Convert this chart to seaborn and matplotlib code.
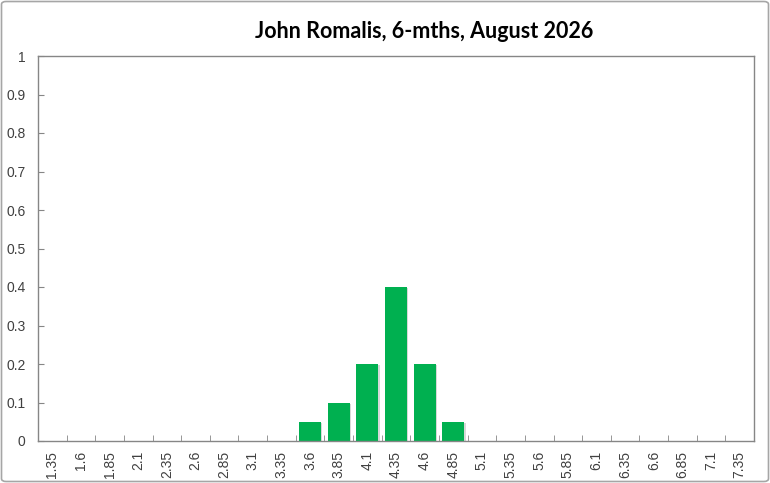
import matplotlib
matplotlib.use("Agg")
import matplotlib.pyplot as plt
import matplotlib.patheffects as pe
import seaborn as sns
import pandas as pd
import numpy as np
from matplotlib.patches import FancyBboxPatch
from matplotlib.ticker import FixedLocator

categories = ["1.35", "1.6", "1.85", "2.1", "2.35", "2.6", "2.85", "3.1", "3.35",
              "3.6", "3.85", "4.1", "4.35", "4.6", "4.85", "5.1", "5.35", "5.6",
              "5.85", "6.1", "6.35", "6.6", "6.85", "7.1", "7.35"]
values = [0, 0, 0, 0, 0, 0, 0, 0, 0,
          0.05, 0.1, 0.2, 0.4, 0.2, 0.05, 0, 0, 0,
          0, 0, 0, 0, 0, 0, 0]
yticks = [0, 0.1, 0.2, 0.3, 0.4, 0.5, 0.6, 0.7, 0.8, 0.9, 1]
ytick_labels = ["0", "0.1", "0.2", "0.3", "0.4", "0.5", "0.6", "0.7", "0.8", "0.9", "1"]
title = "John Romalis, 6-mths, August 2026"

df = pd.DataFrame({"cat": categories, "val": values})

sns.set_style("white")
plt.rcParams["font.family"] = ["Liberation Sans", "DejaVu Sans"]

fig = plt.figure(figsize=(7.7, 4.83), dpi=100)
ax = fig.add_axes([38/770, 42/483, (754-38)/770, (441-56)/483])

sns.barplot(data=df, x="cat", y="val", color="#00B050", width=0.77,
            saturation=1, ax=ax, edgecolor="none")
for p in ax.patches:
    p.set_path_effects([pe.SimplePatchShadow(offset=(1.0, -1.0), shadow_rgbFace="#7f7f7f", alpha=0.3),
                        pe.Normal()])

ax.set_xlim(-0.5, len(categories) - 0.5)
ax.set_ylim(0, 1)
ax.set_yticks(yticks)
ax.set_yticklabels(ytick_labels)
ax.set_xlabel("")
ax.set_ylabel("")

for s in ax.spines.values():
    s.set_color("#868686")
    s.set_linewidth(1.0)
    s.set_visible(True)

ax.tick_params(axis="y", direction="in", length=4, color="#868686",
               labelsize=10, labelcolor="#404040", pad=9, left=True)
ax.tick_params(axis="x", which="major", length=0, labelsize=10,
               labelcolor="#404040", rotation=90, pad=7)
ax.xaxis.set_minor_locator(FixedLocator(np.arange(0.5, len(categories) - 1, 1.0)))
ax.tick_params(axis="x", which="minor", direction="in", length=4,
               color="#868686", bottom=True)

fig.text(424/770, 1 - 32/483, title, ha="center", va="center",
         fontsize=15.5, fontweight="bold", color="#000000",
         family=["Lato", "DejaVu Sans"])

border = FancyBboxPatch((1.5/770, 1.5/483), 1 - 3/770, 1 - 3/483,
                        boxstyle="round,pad=0,rounding_size=0.006",
                        transform=fig.transFigure, fill=False,
                        edgecolor="#A6A6A6", linewidth=1.2)
fig.patches.append(border)

fig.savefig("out.png", dpi=100)
